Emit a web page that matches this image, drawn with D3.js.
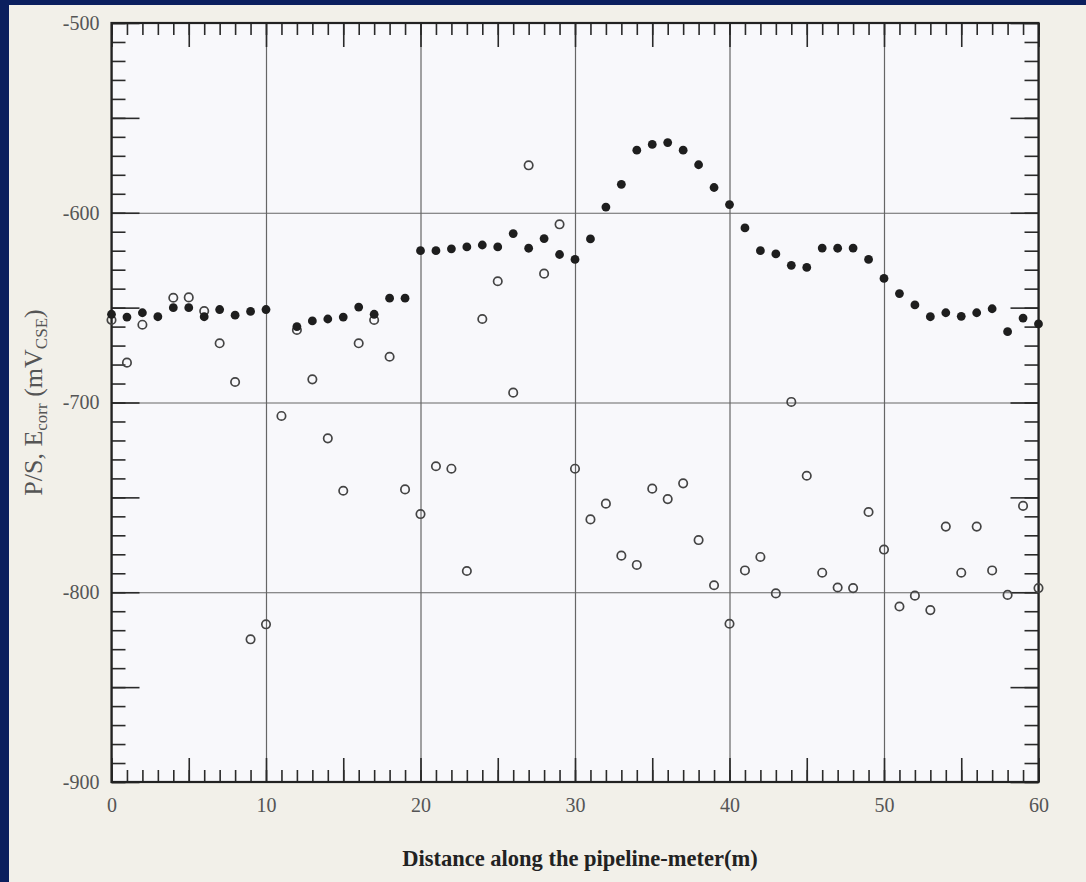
<!DOCTYPE html>
<meta charset="utf-8">
<style>
  body { margin: 0; background: #0b1f5e; }
  svg { display: block; }
</style>
<script src="https://d3js.org/d3.v7.min.js"></script>
<div id="chart"></div>
<script>

// distance along the pipeline (m)
var distance = [0,1,2,3,4,5,6,7,8,9,10,11,12,13,14,15,16,17,18,19,20,
  21,22,23,24,25,26,27,28,29,30,31,32,33,34,35,36,37,38,39,40,
  41,42,43,44,45,46,47,48,49,50,51,52,53,54,55,56,57,58,59,60];

// P/S potential (filled dots), mV CSE
var psValues = [-653.5,-655,-652.7,-654.8,-650,-650,-654.8,-651,-654,-652,-651,
  null,-660,-657,-656,-655,-649.7,-653.5,-645,-645,-620,
  -620,-619,-618,-617,-618,-611,-618.7,-613.6,-622,-624.6,
  -613.8,-597,-585,-567,-564,-563,-567,-574.7,-586.7,-595.7,
  -608,-620,-621.7,-627.7,-628.8,-618.6,-618.7,-618.6,-624.6,-634.6,
  -642.6,-648.6,-654.8,-652.7,-654.6,-652.7,-650.6,-662.7,-655.5,-658.6];

// Ecorr (open circles), mV CSE
var ecorrValues = [-656.5,-679,-659,null,-644.8,-644.6,-651.8,-668.8,-689.2,-824.8,-816.9,
  -707.1,-661.8,-687.8,-718.9,-746.5,-668.8,-656.5,-675.9,-745.8,-758.8,
  -733.6,-734.9,-788.8,-656,-636.1,-694.8,-575,-632.1,-606.1,-734.9,
  -761.6,-753.3,-780.7,-785.6,-745.4,-750.9,-742.6,-772.5,-796.3,-816.6,
  -788.5,-781.4,-800.6,-699.7,-738.6,-789.7,-797.5,-797.8,-757.7,-777.5,
  -807.5,-801.8,-809.4,-765.4,-789.7,-765.4,-788.5,-801.4,-754.5,-797.8];

var xTickLabels = [0,10,20,30,40,50,60];
var yTickLabels = [-500,-600,-700,-800,-900];

var W = 1086, H = 882;
var margin = {top: 23, right: 47.5, bottom: 100, left: 111.5},
    width = W - margin.left - margin.right,
    height = H - margin.top - margin.bottom;

var root = d3.select("#chart").append("svg")
    .attr("width", W)
    .attr("height", H);

// dark blue slide background + paper panel
root.append("rect").attr("width", W).attr("height", H).attr("fill", "#0b1f5e");
root.append("rect").attr("x", 9).attr("y", 5).attr("width", W - 9).attr("height", H - 5)
    .attr("fill", "#f2f0e9");

var svg = root.append("g")
    .attr("transform", "translate(" + margin.left + "," + margin.top + ")");

var x = d3.scaleLinear().domain([0, 60]).range([0, width]);
var y = d3.scaleLinear().domain([-900, -500]).range([height, 0]);

// plot area
svg.append("rect").attr("width", width).attr("height", height).attr("fill", "#f8f8fb");

// grid lines
svg.append("g")
    .attr("transform", "translate(0," + height + ")")
    .call(d3.axisBottom(x).tickValues(xTickLabels).tickSize(-height).tickFormat(""))
    .call(function(g) { g.select(".domain").remove(); })
    .selectAll("line").attr("stroke", "#666").attr("stroke-width", 1.2);
svg.append("g")
    .call(d3.axisLeft(y).tickValues(yTickLabels).tickSize(-width).tickFormat(""))
    .call(function(g) { g.select(".domain").remove(); })
    .selectAll("line").attr("stroke", "#666").attr("stroke-width", 1.2);

// inward ticks on all four sides: minor + medium
function xTicks(axisFn, ty, vals, len) {
  svg.append("g")
    .attr("transform", "translate(0," + ty + ")")
    .call(axisFn(x).tickValues(vals).tickSize(len).tickFormat(""))
    .call(function(g) { g.select(".domain").remove(); })
    .selectAll("line").attr("stroke", "#2a2a2a").attr("stroke-width", 1.6);
}
function yTicks(axisFn, tx, vals, len) {
  svg.append("g")
    .attr("transform", "translate(" + tx + ",0)")
    .call(axisFn(y).tickValues(vals).tickSize(len).tickFormat(""))
    .call(function(g) { g.select(".domain").remove(); })
    .selectAll("line").attr("stroke", "#2a2a2a").attr("stroke-width", 1.6);
}
var xMinor = x.ticks(60), xMid = x.ticks(12);
var yMinor = y.ticks(40), yMid = y.ticks(8);
xTicks(d3.axisBottom, height, xMinor, -12);
xTicks(d3.axisBottom, height, xMid, -24);
xTicks(d3.axisTop, 0, xMinor, -12);
xTicks(d3.axisTop, 0, xMid, -24);
yTicks(d3.axisLeft, 0, yMinor, -14);
yTicks(d3.axisLeft, 0, yMid, -28);
yTicks(d3.axisRight, width, yMinor, -14);
yTicks(d3.axisRight, width, yMid, -28);

// frame
svg.append("rect").attr("width", width).attr("height", height)
    .attr("fill", "none").attr("stroke", "#222").attr("stroke-width", 2.2);

// tick labels
var xLab = svg.append("g")
    .attr("transform", "translate(0," + height + ")")
    .call(d3.axisBottom(x).tickValues(xTickLabels).tickSize(0).tickPadding(16));
xLab.select(".domain").remove();
xLab.selectAll("text").attr("font-family", "Liberation Serif, serif")
    .attr("font-size", 20).attr("fill", "#555");

var yLab = svg.append("g")
    .call(d3.axisLeft(y).tickValues(yTickLabels).tickSize(0).tickPadding(12)
      .tickFormat(function(d) { return "-" + Math.abs(d); }));
yLab.select(".domain").remove();
yLab.selectAll("text").attr("font-family", "Liberation Serif, serif")
    .attr("font-size", 20).attr("fill", "#555");

// points
var psData = distance.map(function(d, i) { return {x: d, v: psValues[i]}; })
    .filter(function(d) { return d.v !== null; });
var ecData = distance.map(function(d, i) { return {x: d, v: ecorrValues[i]}; })
    .filter(function(d) { return d.v !== null; });

svg.selectAll(".ec").data(ecData).enter().append("circle")
    .attr("class", "ec")
    .attr("cx", function(d) { return x(d.x); })
    .attr("cy", function(d) { return y(d.v); })
    .attr("r", 4.2)
    .attr("fill", "none")
    .attr("stroke", "#444")
    .attr("stroke-width", 1.7);

svg.selectAll(".ps").data(psData).enter().append("circle")
    .attr("class", "ps")
    .attr("cx", function(d) { return x(d.x); })
    .attr("cy", function(d) { return y(d.v); })
    .attr("r", 4.4)
    .attr("fill", "#1e1e1e");

// axis titles
root.append("text")
    .attr("x", margin.left + width / 2 + 5)
    .attr("y", 866)
    .attr("text-anchor", "middle")
    .attr("font-family", "Liberation Serif, serif")
    .attr("font-weight", "bold")
    .attr("font-size", 22.5)
    .attr("fill", "#222")
    .text("Distance along the pipeline-meter(m)");

var yt = root.append("text")
    .attr("transform", "translate(42," + (margin.top + y(-700)) + ") rotate(-90)")
    .attr("text-anchor", "middle")
    .attr("font-family", "Liberation Serif, serif")
    .attr("font-size", 26)
    .attr("fill", "#555");
yt.append("tspan").text("P/S, E");
yt.append("tspan").attr("font-size", 17).attr("dy", 5).text("corr");
yt.append("tspan").attr("dy", -5).text(" (mV");
yt.append("tspan").attr("font-size", 17).attr("dy", 5).text("CSE");
yt.append("tspan").attr("dy", -5).text(")");

</script>
